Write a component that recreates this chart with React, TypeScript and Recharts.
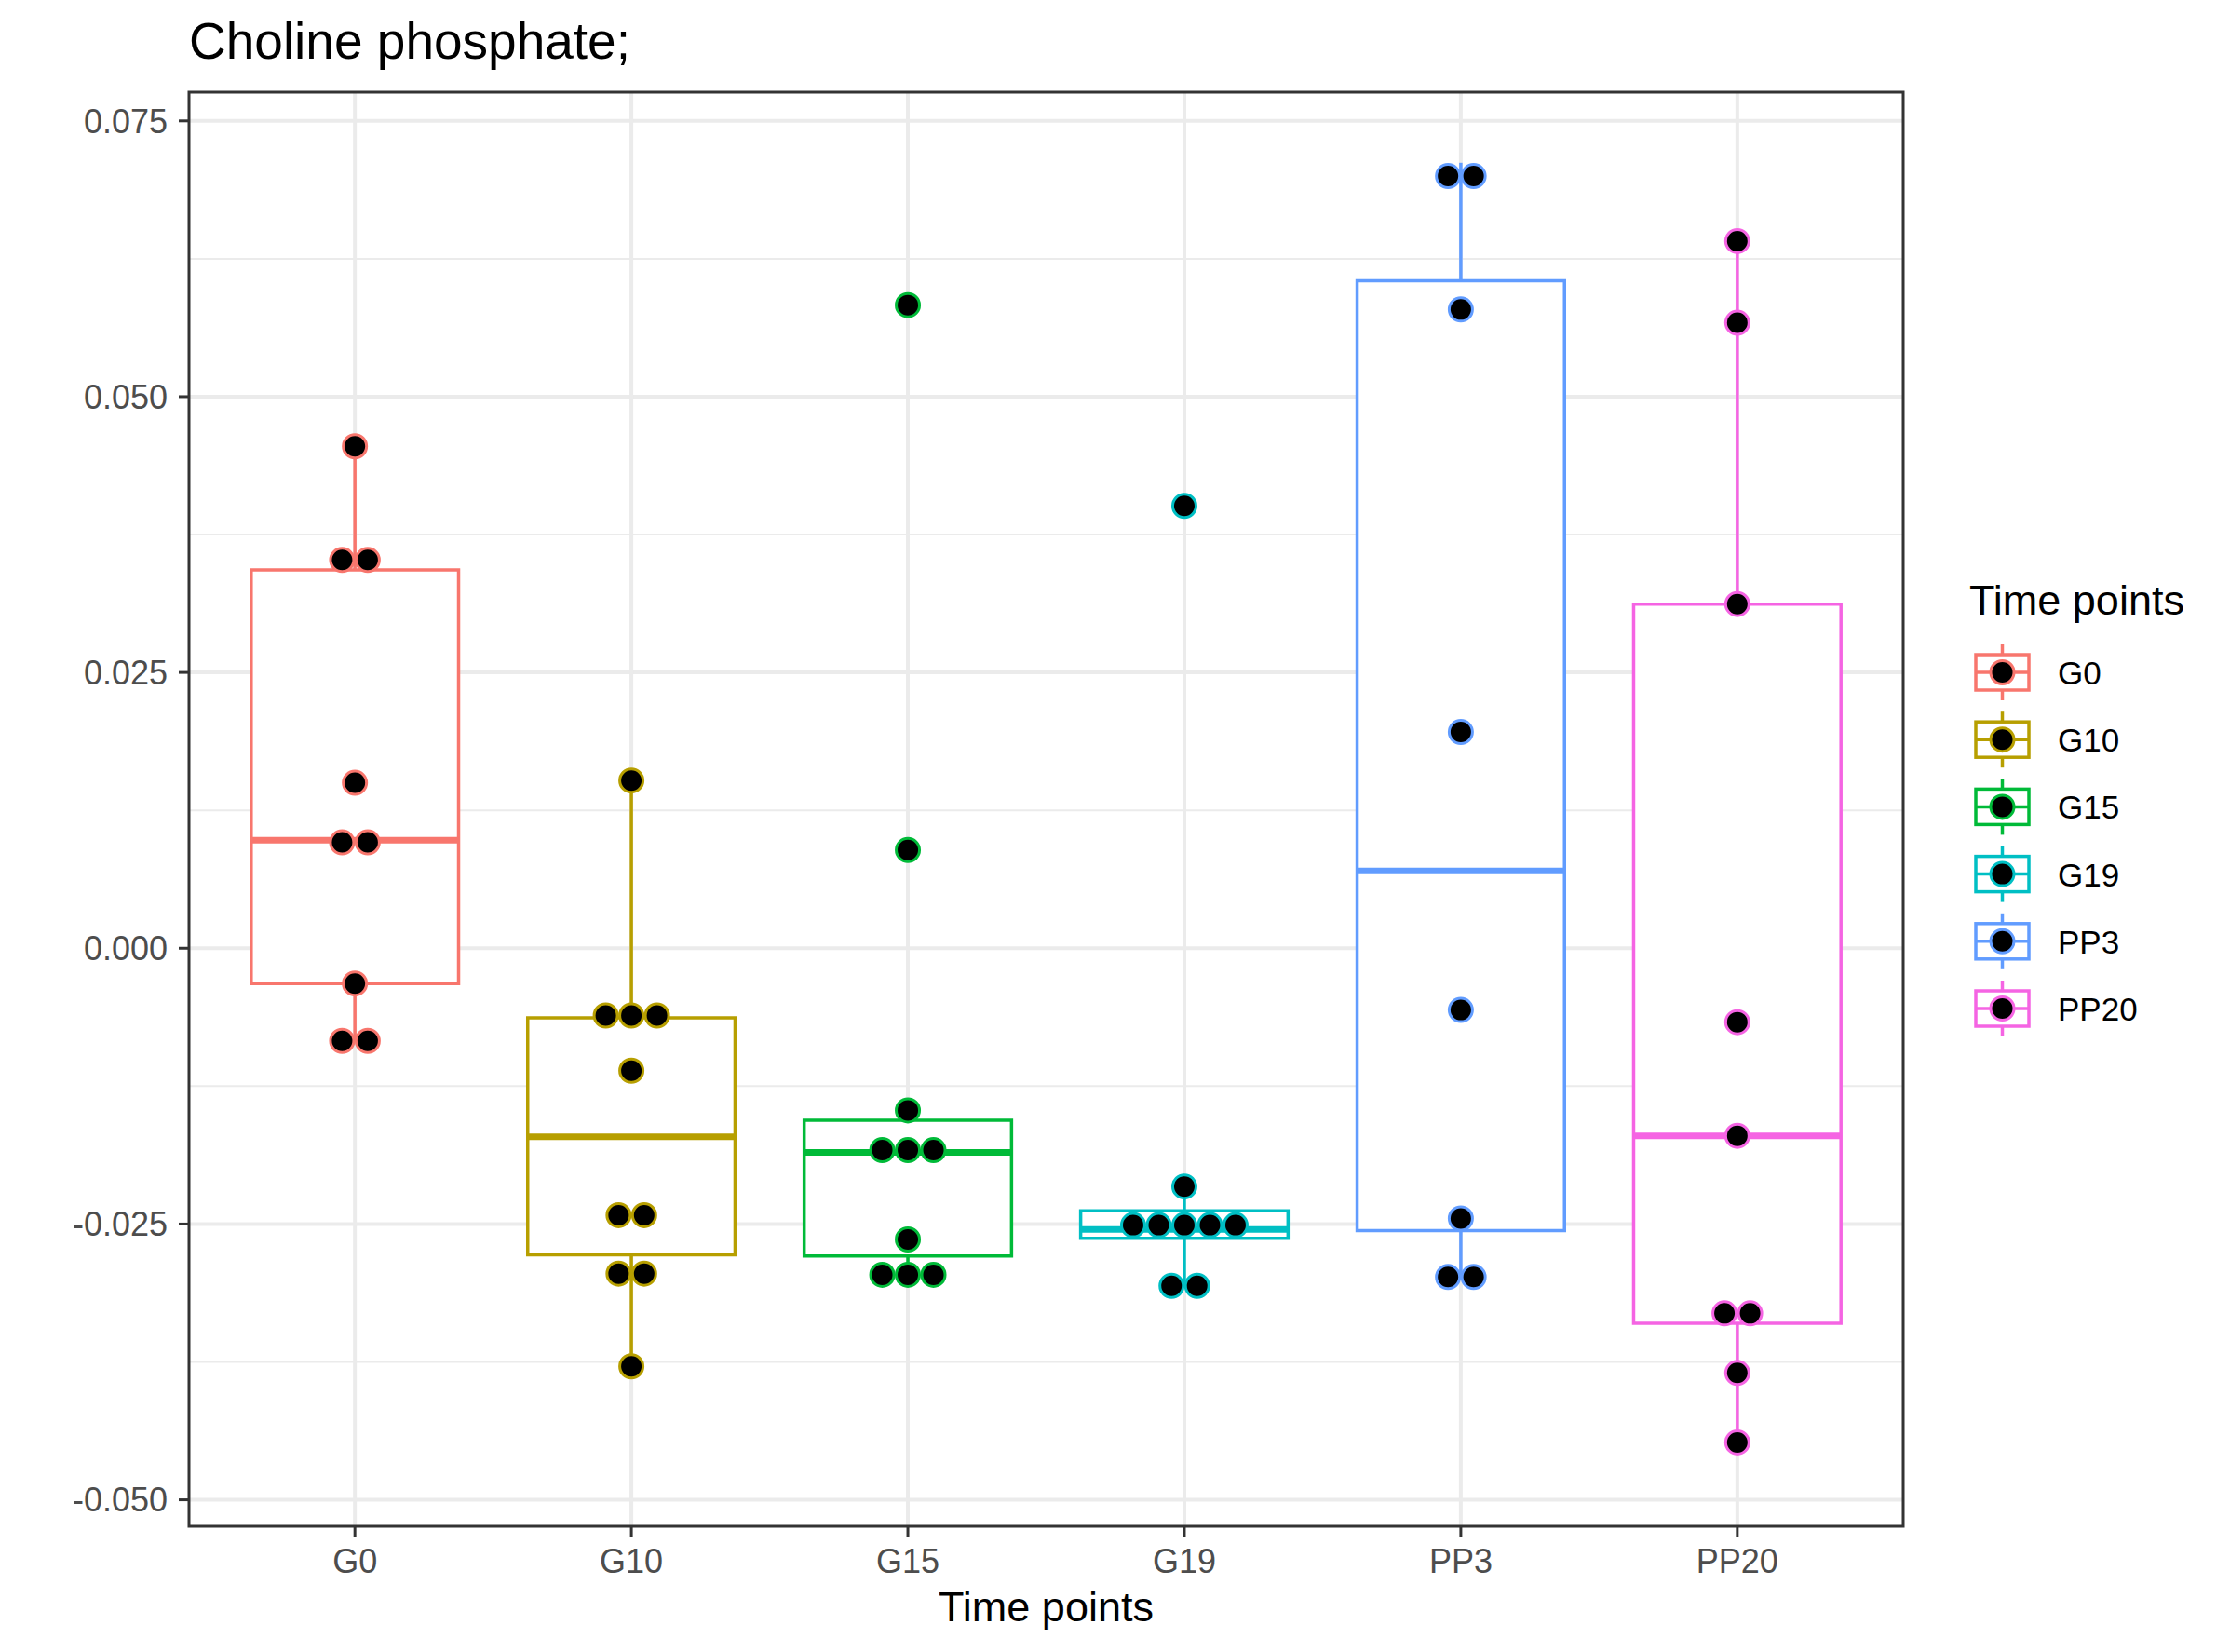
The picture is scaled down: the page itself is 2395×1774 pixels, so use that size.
import React from "react";
import {
  ScatterChart,
  Scatter,
  XAxis,
  YAxis,
  CartesianGrid,
  ReferenceArea,
  ReferenceLine
} from "recharts";

// groups + ggplot hue palette
const groups = ["G0", "G10", "G15", "G19", "PP3", "PP20"];
const colors = ["#F8766D", "#B79F00", "#00BA38", "#00BFC4", "#619CFF", "#F564E3"];

// dot positions (binned values, as drawn by the dotplot)
const dotsG0 = [0.0455, 0.0352, 0.0352, 0.015, 0.0096, 0.0096, -0.0032, -0.0084, -0.0084];
const dotsG10 = [0.0152, -0.0061, -0.0061, -0.0061, -0.0111, -0.0242, -0.0242, -0.0295, -0.0295, -0.0379];
const dotsG15 = [0.0583, 0.0089, -0.0147, -0.0183, -0.0183, -0.0183, -0.0264, -0.0296, -0.0296, -0.0296];
const dotsG19 = [0.0401, -0.0216, -0.0251, -0.0251, -0.0251, -0.0251, -0.0251, -0.0306, -0.0306];
const dotsPP3 = [0.07, 0.07, 0.0579, 0.0196, -0.0056, -0.0245, -0.0298, -0.0298];
const dotsPP20 = [0.0641, 0.0567, 0.0312, -0.0067, -0.017, -0.0331, -0.0331, -0.0385, -0.0448];

// box stats
const whiskerLow = [-0.0084, -0.0379, -0.0296, -0.0306, -0.0298, -0.0448];
const q1 = [-0.0032, -0.0278, -0.0279, -0.0263, -0.0256, -0.034];
const median = [0.0098, -0.0171, -0.0185, -0.0255, 0.007, -0.017];
const q3 = [0.0343, -0.0063, -0.0156, -0.0238, 0.0605, 0.0312];
const whiskerHigh = [0.0455, 0.0152, -0.0147, -0.0216, 0.0712, 0.0641];

const yTicks = [-0.05, -0.025, 0, 0.025, 0.05, 0.075];
const yMinor = [-0.0375, -0.0125, 0.0125, 0.0375, 0.0625];

const W = 2395;
const H = 1774;
const Y_DOMAIN: [number, number] = [-0.0524, 0.0776];
const X_DOMAIN: [number, number] = [0.4, 6.6];
const BOX_HALF = 0.375;
// dot diameter in px / px per category
const DOT_STEP = 27.5 / (1841 / 6.2);

const allDots = [dotsG0, dotsG10, dotsG15, dotsG19, dotsPP3, dotsPP20];

// stack equal values side by side, centred on the group
function stackDots(values: number[], pos: number) {
  const counts: Record<string, number> = {};
  values.forEach((v) => (counts[v] = (counts[v] || 0) + 1));
  const seen: Record<string, number> = {};
  return values.map((v) => {
    const k = seen[v] || 0;
    seen[v] = k + 1;
    return { x: pos + (k - (counts[v] - 1) / 2) * DOT_STEP, y: v };
  });
}

const FONT = "'Liberation Sans', Arial, Helvetica, sans-serif";

export default function App() {
  return (
    <div style={{ position: "absolute", left: 0, top: 0, width: W, height: H, background: "#fff", fontFamily: FONT }}>
      <ScatterChart width={W} height={H} margin={{ top: 99, right: 351, bottom: 0, left: 0 }}>
        <CartesianGrid
          stroke="#EBEBEB"
          strokeWidth={2}
          vertical={false}
          horizontalValues={yMinor}
        />
        <CartesianGrid
          stroke="#EBEBEB"
          strokeWidth={4}
          horizontalValues={yTicks}
          verticalValues={[1, 2, 3, 4, 5, 6]}
        />
        <XAxis
          type="number"
          dataKey="x"
          domain={X_DOMAIN}
          allowDataOverflow
          ticks={[1, 2, 3, 4, 5, 6]}
          interval={0}
          tickFormatter={(v: number) => groups[v - 1]}
          height={135}
          tickSize={12}
          tickMargin={12}
          axisLine={false}
          tickLine={{ stroke: "#333333", strokeWidth: 3 }}
          tick={{ fill: "#4D4D4D", fontSize: 36 }}
          label={{ value: "Time points", position: "insideBottom", offset: 33, fill: "#000", fontSize: 45 }}
        />
        <YAxis
          type="number"
          dataKey="y"
          domain={Y_DOMAIN}
          allowDataOverflow
          ticks={yTicks}
          interval={0}
          tickFormatter={(v: number) => v.toFixed(3)}
          width={203}
          tickSize={11}
          tickMargin={12}
          axisLine={false}
          tickLine={{ stroke: "#333333", strokeWidth: 3 }}
          tick={{ fill: "#4D4D4D", fontSize: 36 }}
        />

        {groups.map((g, i) => (
          <ReferenceLine
            key={`wu-${g}`}
            segment={[{ x: i + 1, y: q3[i] }, { x: i + 1, y: whiskerHigh[i] }]}
            stroke={colors[i]}
            strokeWidth={3.5}
          />
        ))}
        {groups.map((g, i) => (
          <ReferenceLine
            key={`wl-${g}`}
            segment={[{ x: i + 1, y: q1[i] }, { x: i + 1, y: whiskerLow[i] }]}
            stroke={colors[i]}
            strokeWidth={3.5}
          />
        ))}
        {groups.map((g, i) => (
          <ReferenceArea
            key={`box-${g}`}
            x1={i + 1 - BOX_HALF}
            x2={i + 1 + BOX_HALF}
            y1={q1[i]}
            y2={q3[i]}
            fill="#fff"
            fillOpacity={1}
            stroke={colors[i]}
            strokeWidth={3.5}
          />
        ))}
        {groups.map((g, i) => (
          <ReferenceLine
            key={`med-${g}`}
            segment={[{ x: i + 1 - BOX_HALF, y: median[i] }, { x: i + 1 + BOX_HALF, y: median[i] }]}
            stroke={colors[i]}
            strokeWidth={7}
          />
        ))}
        <ReferenceArea
          x1={X_DOMAIN[0]}
          x2={X_DOMAIN[1]}
          y1={Y_DOMAIN[0]}
          y2={Y_DOMAIN[1]}
          fill="none"
          stroke="#333333"
          strokeWidth={3}
        />

        {groups.map((g, i) => (
          <Scatter
            key={`dots-${g}`}
            name={g}
            data={stackDots(allDots[i], i + 1)}
            isAnimationActive={false}
            shape={(p: any) => (
              <circle cx={p.cx} cy={p.cy} r={12.5} fill="#000" stroke={colors[i]} strokeWidth={3} />
            )}
          />
        ))}
      </ScatterChart>

      <svg
        width={W}
        height={H}
        style={{ position: "absolute", left: 0, top: 0, pointerEvents: "none", fontFamily: FONT }}
      >
        <text x={203} y={63} fontSize={55} fill="#000">
          Choline phosphate;
        </text>
        <text x={2115} y={660} fontSize={45} fill="#000">
          Time points
        </text>
        {groups.map((g, i) => {
          const cy = 722 + i * 72.2;
          const cx = 2150.5;
          return (
            <g key={`leg-${g}`}>
              <line x1={cx} x2={cx} y1={cy - 30} y2={cy + 30} stroke={colors[i]} strokeWidth={3.5} />
              <rect x={cx - 28.5} y={cy - 19} width={57} height={38} fill="#fff" stroke={colors[i]} strokeWidth={3.5} />
              <line x1={cx - 28.5} x2={cx + 28.5} y1={cy} y2={cy} stroke={colors[i]} strokeWidth={3.5} />
              <circle cx={cx} cy={cy} r={12.5} fill="#000" stroke={colors[i]} strokeWidth={3} />
              <text x={2210} y={cy + 13} fontSize={35} fill="#000">
                {g}
              </text>
            </g>
          );
        })}
      </svg>
    </div>
  );
}
